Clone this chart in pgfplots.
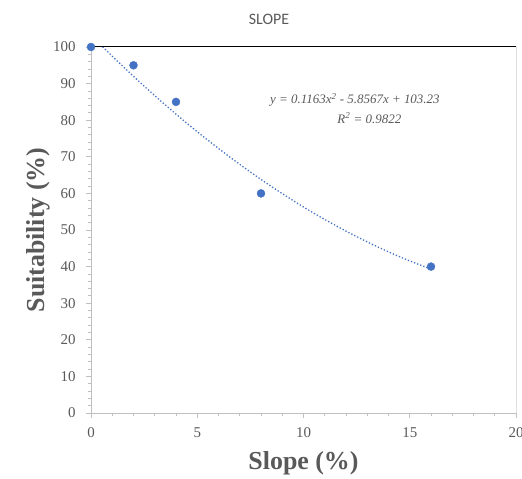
\documentclass[border=0pt]{standalone}
\usepackage{fontspec}
\setmainfont{Liberation Serif}
\newfontfamily\titlefont{Carlito}
\usepackage{pgfplots}
\pgfplotsset{compat=1.18}

\definecolor{ptblue}{HTML}{4472C4}
\definecolor{txtgray}{HTML}{595959}
\definecolor{axgray}{HTML}{BFBFBF}

\begin{document}
\begin{tikzpicture}
\useasboundingbox (-91bp,-66bp) rectangle (431bp,413bp);
\begin{axis}[
  scale only axis,
  width=425bp, height=366bp,
  xmin=0, xmax=20, ymin=0, ymax=100,
  xtick={0,5,10,15,20}, ytick={0,10,...,100},
  minor x tick num=4, minor y tick num=4,
  tick align=outside,
  major tick length=5bp, minor tick length=3bp,
  tick style={axgray, line width=0.8pt},
  axis x line*=bottom, axis y line*=left,
  axis line style={axgray, line width=1pt},
  tick label style={font=\fontsize{15}{15}\selectfont, text=txtgray},
  /pgf/number format/assume math mode=true,
  xlabel={\textbf{Slope (\%)}},
  ylabel={\textbf{Suitability (\%)}},
  label style={font=\fontsize{26}{26}\selectfont, text=txtgray},
  xlabel style={at={(0.5,-0.137)}, anchor=center},
  ylabel style={at={(-0.125,0.5)}, anchor=center, rotate=0},
  yticklabel style={xshift=-7bp},
  xticklabel style={yshift=-6bp},
  clip=true,
]
% trendline (Excel polynomial, read as points)
\addplot[ptblue, line width=1.3pt, dotted, smooth] coordinates {
  (0,103.23) (1,97.49) (2,91.98) (3,86.71) (4,81.66) (5,76.85) (6,72.28)
  (7,67.93) (8,63.82) (9,59.94) (10,56.29) (11,52.88) (12,49.70) (13,46.75)
  (14,44.03) (15,41.55) (16,39.30)
};
\addplot[only marks, mark=*, mark size=4bp, ptblue] coordinates {
  (0,100) (2,95) (4,85) (8,60) (16,40)
};
\node[text=txtgray, font=\fontsize{13}{13}\selectfont\itshape] at (axis cs:12.42,85.5)
  {y = 0.1163x\textsuperscript{2} - 5.8567x + 103.23};
\node[text=txtgray, font=\fontsize{13}{13}\selectfont\itshape] at (axis cs:13.1,80.6)
  {R\textsuperscript{2} = 0.9822};
\draw[black, line width=1pt] (rel axis cs:0,1) -- (rel axis cs:1,1) -- (rel axis cs:1,0);
\end{axis}
\node[text=txtgray, font=\titlefont\fontsize{16}{16}\selectfont] at (178bp,394bp) {SLOPE};
\end{tikzpicture}
\end{document}
